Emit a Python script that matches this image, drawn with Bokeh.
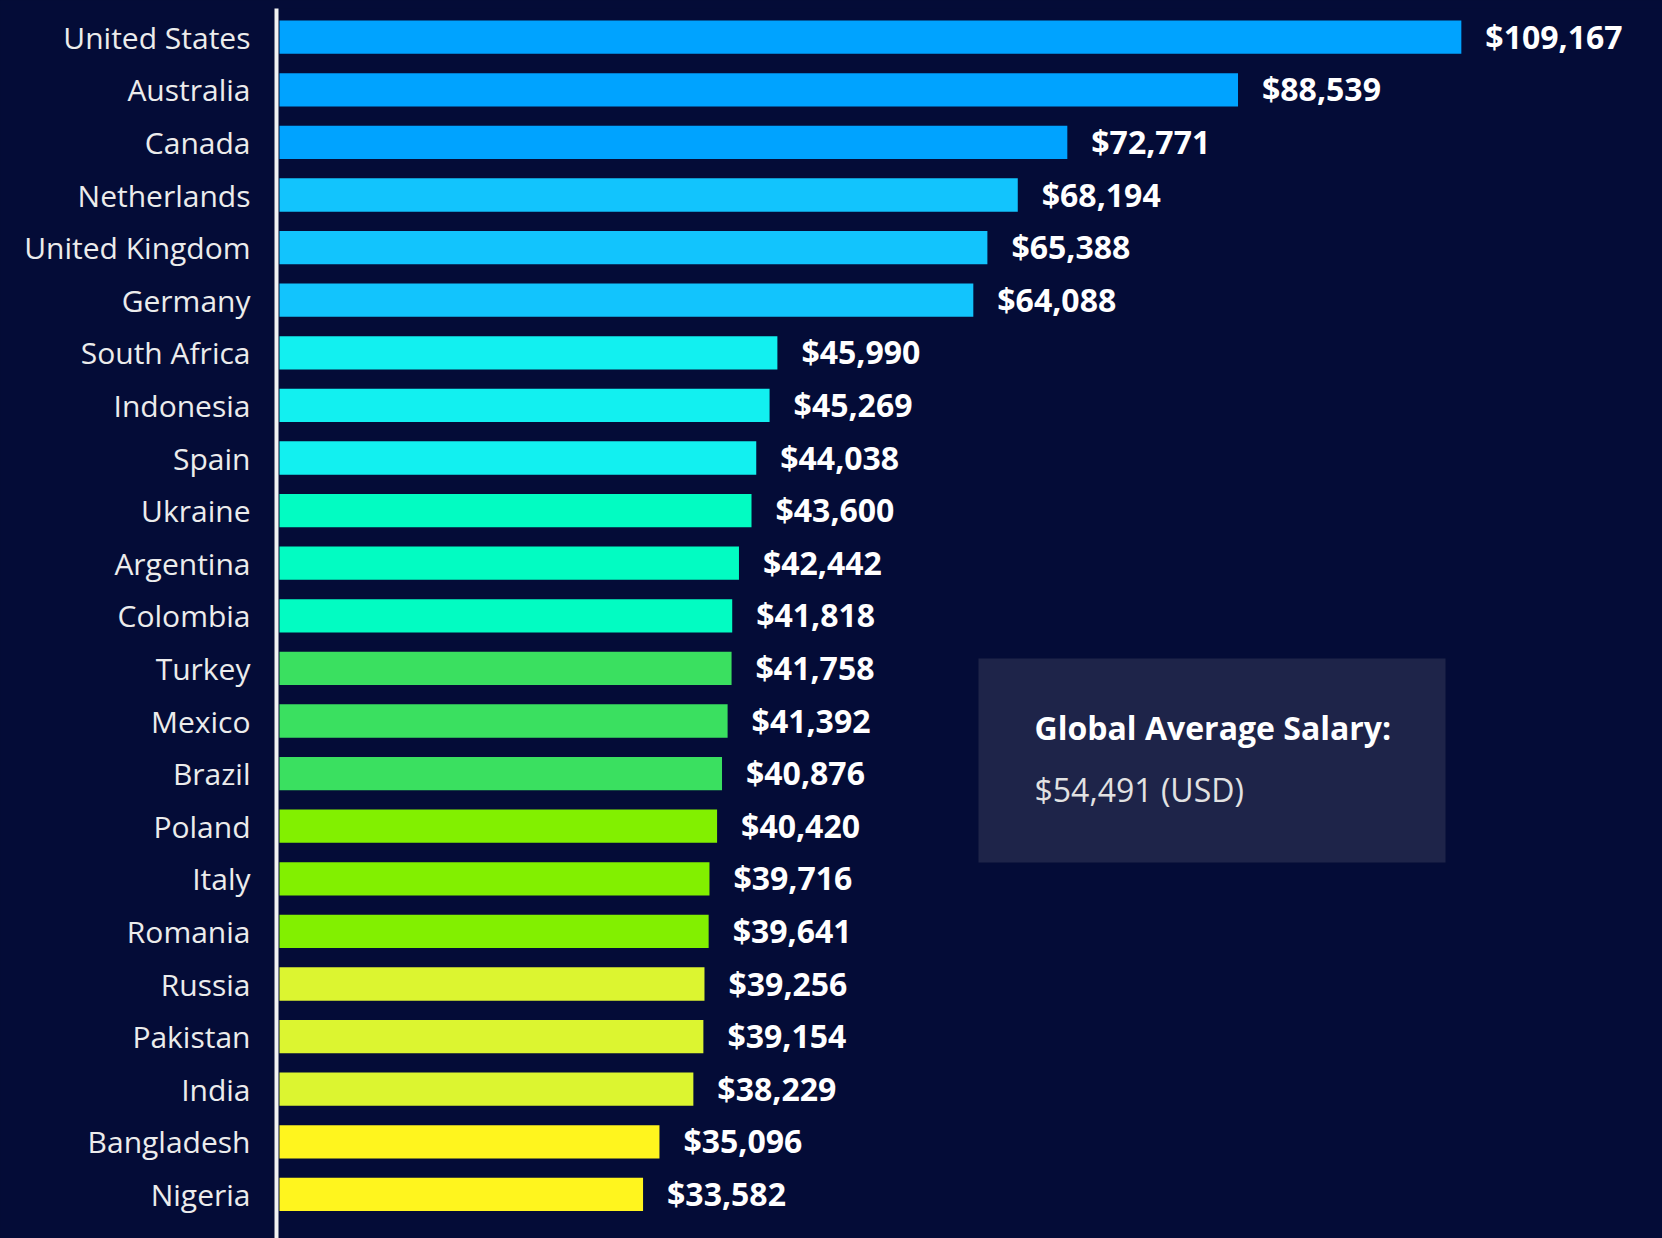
from bokeh.plotting import figure
from bokeh.models import (ColumnDataSource, Range1d, FixedTicker, Label,
                          BoxAnnotation, GlobalInlineStyleSheet)
from bokeh.core.properties import value
from bokeh.embed import file_html
from bokeh.resources import INLINE

# ---------------- data ----------------
countries = ["United States", "Australia", "Canada", "Netherlands", "United Kingdom",
             "Germany", "South Africa", "Indonesia", "Spain", "Ukraine", "Argentina",
             "Colombia", "Turkey", "Mexico", "Brazil", "Poland", "Italy", "Romania",
             "Russia", "Pakistan", "India", "Bangladesh", "Nigeria"]
salaries = [109167, 88539, 72771, 68194, 65388, 64088, 45990, 45269, 44038, 43600,
            42442, 41818, 41758, 41392, 40876, 40420, 39716, 39641, 39256, 39154,
            38229, 35096, 33582]
bar_colors = ["#00a3ff", "#00a3ff", "#00a3ff",
              "#12c4fd", "#12c4fd", "#12c4fd",
              "#12f0f0", "#12f0f0", "#12f0f0",
              "#02fcc2", "#02fcc2", "#02fcc2",
              "#3ae060", "#3ae060", "#3ae060",
              "#82f000", "#82f000", "#82f000",
              "#dcf530", "#dcf530", "#dcf530",
              "#fff51e", "#fff51e"]
avg_title = "Global Average Salary:"
avg_text = "$54,491 (USD)"

BG = "#040c37"
BOX = "#1e2449"
FONT = "Open Sans"

positions = list(range(len(countries)))
src = ColumnDataSource(dict(
    y=positions,
    value=salaries,
    color=bar_colors,
    label=[f"${v:,}" for v in salaries],
))

p = figure(width=1662, height=1238, output_backend="svg", toolbar_location=None,
           x_range=Range1d(-277, 127748), y_range=Range1d(22.838, -0.546),
           x_axis_location=None,
           min_border_left=276, min_border_right=0, min_border_top=8, min_border_bottom=0,
           background_fill_color=BG, border_fill_color=BG, outline_line_color=None)
p.stylesheets = [GlobalInlineStyleSheet(css=f"body {{ background: {BG}; }}")]

p.xgrid.visible = False
p.ygrid.visible = False

p.hbar(y="y", left=0, right="value", height=0.633, fill_color="color",
       line_color=None, source=src)

p.text(x="value", y="y", text="label", x_offset=24, y_offset=-1, text_baseline="middle",
       text_align="left", text_font=value(FONT), text_font_style="bold",
       text_font_size="32px", text_color="#ffffff", source=src)

yaxis = p.yaxis[0]
yaxis.ticker = FixedTicker(ticks=positions)
yaxis.major_label_overrides = {i: c for i, c in zip(positions, countries)}
yaxis.major_label_text_font = FONT
yaxis.major_label_text_font_size = "30px"
yaxis.major_label_text_color = "#ececec"
yaxis.major_tick_out = 0
yaxis.major_tick_in = 0
yaxis.minor_tick_out = 0
yaxis.minor_tick_in = 0
yaxis.major_label_standoff = 26
yaxis.axis_line_color = "#f2f2f2"
yaxis.axis_line_width = 4

# info box
p.add_layout(BoxAnnotation(left=64567, right=107704, top=11.81, bottom=15.69,
                           fill_color=BOX, fill_alpha=1.0, line_color=None))
p.add_layout(Label(x=69740, y=13.13, text=avg_title, text_font=FONT,
                   text_font_style="bold", text_font_size="32px",
                   text_color="#ffffff", text_baseline="alphabetic"))
p.add_layout(Label(x=69740, y=14.31, text=avg_text, text_font=FONT,
                   text_font_size="32px", text_color="#e2e2e2",
                   text_baseline="alphabetic"))

open("out.html", "w").write(file_html(p, INLINE))
